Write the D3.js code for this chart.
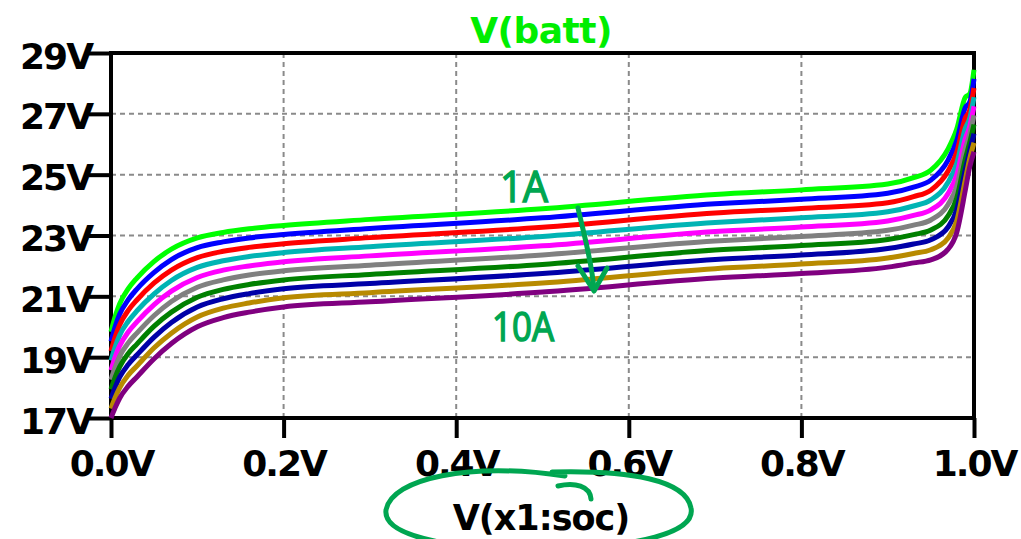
<!DOCTYPE html>
<html><head><meta charset="utf-8">
<script src="https://cdn.jsdelivr.net/npm/d3@7"></script>
<style>body{margin:0;background:#fff}</style>
</head><body>
<svg id="chart" width="1021" height="539"></svg>
<script>
const soc = [0, 0.005, 0.01, 0.02, 0.03, 0.05, 0.07, 0.1, 0.13, 0.16, 0.2, 0.3, 0.5, 0.7, 0.8, 0.9, 0.93, 0.95, 0.97, 0.98, 0.99, 0.995, 1.0];
const v1A  = [19.83,20.35,20.75,21.25,21.60,22.15,22.55,22.92,23.10,23.22,23.33,23.53,23.88,24.35,24.50,24.69,24.90,25.15,25.85,26.50,27.55,27.65,28.45];
const v2A  = [19.52,20.02,20.41,20.89,21.24,21.79,22.21,22.60,22.79,22.92,23.03,23.23,23.58,24.04,24.19,24.39,24.59,24.82,25.48,26.12,27.21,27.38,28.15];
const v3A  = [19.20,19.68,20.06,20.54,20.88,21.44,21.86,22.27,22.48,22.61,22.73,22.93,23.27,23.74,23.89,24.08,24.28,24.49,25.12,25.74,26.87,27.12,27.85];
const v4A  = [18.89,19.35,19.72,20.18,20.52,21.08,21.52,21.95,22.17,22.31,22.44,22.63,22.97,23.43,23.58,23.78,23.97,24.17,24.75,25.37,26.53,26.85,27.55];
const v5A  = [18.57,19.02,19.37,19.83,20.16,20.73,21.17,21.62,21.86,22.00,22.14,22.33,22.66,23.13,23.28,23.48,23.66,23.84,24.38,24.99,26.19,26.58,27.25];
const v6A  = [18.26,18.68,19.03,19.47,19.79,20.37,20.83,21.30,21.54,21.70,21.84,22.02,22.36,22.82,22.97,23.17,23.34,23.51,24.02,24.61,25.86,26.32,26.95];
const v7A  = [17.94,18.35,18.68,19.12,19.43,20.02,20.48,20.97,21.23,21.39,21.54,21.72,22.05,22.52,22.67,22.87,23.03,23.18,23.65,24.23,25.52,26.05,26.65];
const v8A  = [17.63,18.02,18.34,18.76,19.07,19.66,20.14,20.65,20.92,21.09,21.25,21.42,21.75,22.21,22.36,22.57,22.72,22.86,23.28,23.86,25.18,25.78,26.35];
const v9A  = [17.31,17.68,17.99,18.41,18.71,19.31,19.79,20.32,20.61,20.78,20.95,21.12,21.44,21.91,22.06,22.26,22.41,22.53,22.92,23.48,24.84,25.52,26.05];
const v10A = [17.00,17.35,17.65,18.05,18.35,18.95,19.45,20.00,20.30,20.48,20.65,20.82,21.14,21.60,21.75,21.96,22.10,22.20,22.55,23.10,24.50,25.25,25.75];
const seriesValues = [v1A, v2A, v3A, v4A, v5A, v6A, v7A, v8A, v9A, v10A];
const seriesColors = ["#00ff00","#0000ff","#ff0000","#00b4b4","#ff00ff","#808080","#008000","#0000a8","#b88a00","#800080"];
const xTicks = [0, 0.2, 0.4, 0.6, 0.8, 1.0];
const xTickLabels = ["0.0V","0.2V","0.4V","0.6V","0.8V","1.0V"];
const yTicks = [17, 19, 21, 23, 25, 27, 29];
const yTickLabels = ["17V","19V","21V","23V","25V","27V","29V"];
const title = "V(batt)";
const xTitle = "V(x1:soc)";

const svg = d3.select("#chart");
const L = 111, R = 974, T = 53, B = 418;
const x = d3.scaleLinear().domain([0, 1]).range([L, R]);
const y = d3.scaleLinear().domain([17, 29]).range([B, T]);
const font = "'DejaVu Sans', Verdana, sans-serif";

svg.append("rect").attr("width",1021).attr("height",539).attr("fill","#fff");

// grid
const grid = svg.append("g").attr("stroke","#8a8a8a").attr("stroke-width",2).attr("stroke-dasharray","5,4");
grid.selectAll(".gy").data(yTicks.slice(1,-1)).join("line")
  .attr("x1",L).attr("x2",R).attr("y1",d=>y(d)).attr("y2",d=>y(d));
grid.selectAll(".gx").data(xTicks.slice(1,-1)).join("line")
  .attr("y1",T).attr("y2",B).attr("x1",d=>x(d)).attr("x2",d=>x(d));

// axes
const yAxis = d3.axisLeft(y).tickValues(yTicks).tickSize(22).tickSizeOuter(0)
  .tickFormat((d,i)=>yTickLabels[i]);
const gy = svg.append("g").attr("transform",`translate(${L},0)`).call(yAxis);
gy.select(".domain").remove();
gy.selectAll(".tick line").attr("stroke","#000").attr("stroke-width",4);
gy.selectAll(".tick text").attr("font-family",font).attr("font-weight","bold")
  .attr("font-size",36).attr("letter-spacing","-2px").attr("fill","#000")
  .attr("dy",null).attr("y",15).attr("x",-19);

const xAxis = d3.axisBottom(x).tickValues(xTicks).tickSize(20).tickSizeOuter(0)
  .tickFormat((d,i)=>xTickLabels[i]);
const gx = svg.append("g").attr("transform",`translate(0,${B})`).call(xAxis);
gx.select(".domain").remove();
gx.selectAll(".tick line").attr("stroke","#000").attr("stroke-width",4);
gx.selectAll(".tick text").attr("font-family",font).attr("font-weight","bold")
  .attr("font-size",36).attr("letter-spacing","-2px").attr("fill","#000")
  .attr("dy",null).attr("y",58);

// frame
svg.append("rect").attr("x",L).attr("y",T).attr("width",R-L).attr("height",B-T)
  .attr("fill","none").attr("stroke","#000").attr("stroke-width",4);

// curves
const line = d3.line().x((d,i)=>x(soc[i])).y(d=>y(d)).curve(d3.curveMonotoneX);
svg.append("g").selectAll("path").data(seriesValues).join("path")
  .attr("d",d=>line(d)).attr("fill","none")
  .attr("stroke",(d,i)=>seriesColors[i]).attr("stroke-width",5)
  .attr("stroke-linejoin","round");

// title
svg.append("text").attr("x",541).attr("y",43).attr("text-anchor","middle")
  .attr("font-family",font).attr("font-weight","bold").attr("font-size",36)
  .attr("letter-spacing","-0.5px").attr("fill","#00ee00").text(title);

// x title
svg.append("text").attr("x",541).attr("y",530).attr("text-anchor","middle")
  .attr("font-family",font).attr("font-weight","bold").attr("font-size",35)
  .attr("letter-spacing","-1px").attr("fill","#000").text(xTitle);

// hand-drawn annotations
const hand = "#00a651";
const ann = svg.append("g").attr("fill","none").attr("stroke",hand).attr("stroke-width",5)
  .attr("stroke-linecap","round").attr("stroke-linejoin","round");
ann.append("path").attr("d","M 565 476 C 470 462, 392 478, 386 510 C 382 540, 470 550, 540 549 C 640 548, 696 532, 691 508 C 686 480, 630 470, 552 472");
ann.append("path").attr("d","M 558 486 C 575 482, 590 486, 591 499");
ann.append("path").attr("d","M 578 208 C 584 235, 592 262, 594 290");
ann.append("path").attr("d","M 578 266 L 594 291 L 607 268");

svg.append("text").attr("x",500).attr("y",202).attr("font-family","'Open Sans', sans-serif")
  .attr("font-size",44).attr("fill",hand).attr("stroke",hand).attr("stroke-width",1.5)
  .attr("textLength",48).attr("lengthAdjust","spacingAndGlyphs").text("1A");
svg.append("text").attr("x",492).attr("y",341).attr("font-family","'Open Sans', sans-serif")
  .attr("font-size",40).attr("fill",hand).attr("stroke",hand).attr("stroke-width",1.5)
  .attr("textLength",62).attr("lengthAdjust","spacingAndGlyphs").text("10A");
</script>
</body></html>
